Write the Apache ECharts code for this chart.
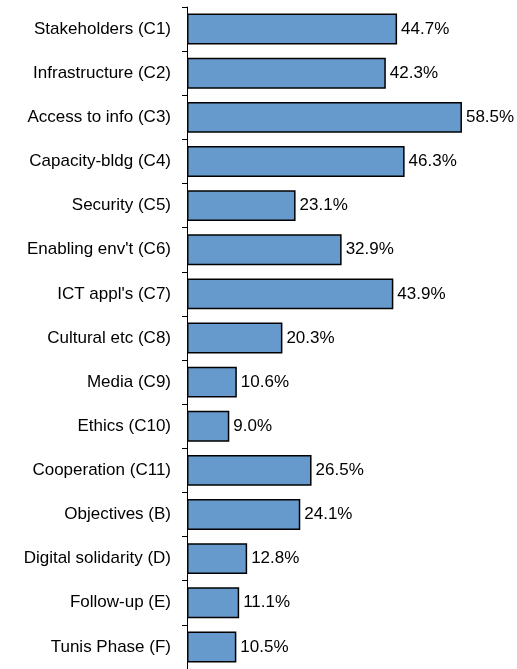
<!DOCTYPE html>
<html>
<head>
<meta charset="utf-8">
<script src="https://cdn.jsdelivr.net/npm/echarts@6/dist/echarts.min.js"></script>
<style>
  html, body { margin: 0; padding: 0; background: #fff; }
  #chart { width: 517px; height: 669px; }
</style>
</head>
<body>
<div id="chart"></div>
<script>
var categories = [
  'Stakeholders (C1)', 'Infrastructure (C2)', 'Access to info (C3)', 'Capacity-bldg (C4)',
  'Security (C5)', "Enabling env't (C6)", "ICT appl's (C7)", 'Cultural etc (C8)',
  'Media (C9)', 'Ethics (C10)', 'Cooperation (C11)', 'Objectives (B)',
  'Digital solidarity (D)', 'Follow-up (E)', 'Tunis Phase (F)'
];
var shares = [44.7, 42.3, 58.5, 46.3, 23.1, 32.9, 43.9, 20.3, 10.6, 9.0, 26.5, 24.1, 12.8, 11.1, 10.5];

var chart = echarts.init(document.getElementById('chart'));
chart.setOption({
  animation: false,
  grid: { left: 187, top: 7, width: 282, height: 662 },
  xAxis: {
    type: 'value', min: 0, max: 60,
    show: false
  },
  yAxis: {
    type: 'category',
    inverse: true,
    data: categories,
    axisLine: { lineStyle: { color: '#000', width: 1 } },
    axisTick: { show: true, length: 5, inside: false, lineStyle: { color: '#000' } },
    axisLabel: { color: '#000', fontFamily: 'Liberation Sans', fontSize: 17, margin: 16 }
  },
  series: [{
    type: 'bar',
    data: shares,
    barCategoryGap: '30%',
    itemStyle: { color: '#6699CC', borderColor: '#000', borderWidth: 1.5 },
    label: {
      show: true, position: 'right', distance: 4,
      color: '#000', fontFamily: 'Liberation Sans', fontSize: 17,
      formatter: function (p) { return p.value.toFixed(1) + '%'; }
    }
  }]
});
</script>
</body>
</html>
